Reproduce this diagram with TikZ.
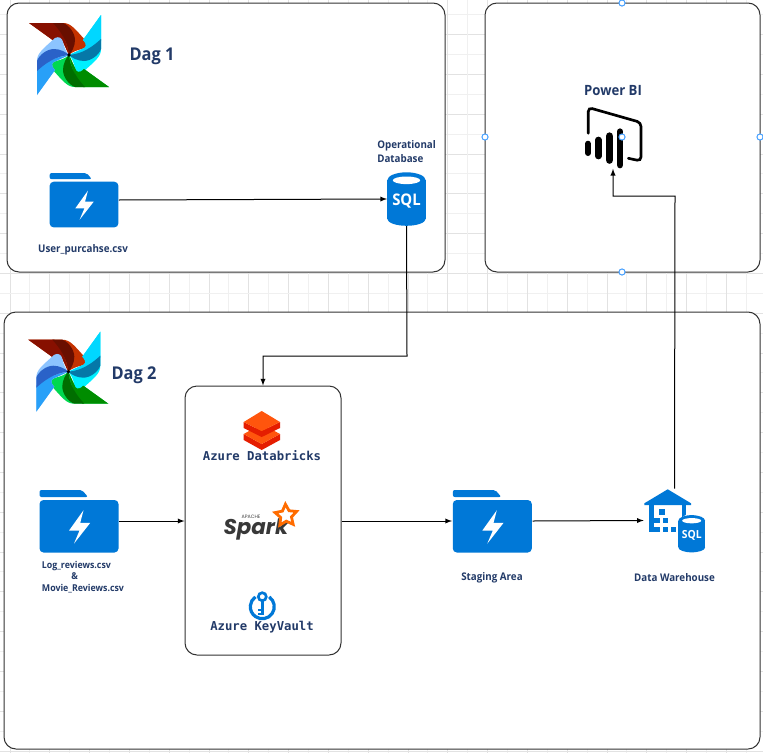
\documentclass[tikz,border=0pt]{standalone}
\usepackage{fontspec}
\setmainfont{Open Sans}[FakeStretch=0.93]
\newfontfamily\monofont{DejaVu Sans Mono}
\newfontfamily\sparkfont{Poppins}
\usetikzlibrary{shapes.geometric}
\definecolor{labelblue}{RGB}{34,58,104}
\definecolor{azureblue}{RGB}{0,120,215}
\definecolor{handleblue}{RGB}{70,160,255}
\definecolor{borderdark}{RGB}{50,50,50}
\definecolor{gridmajor}{RGB}{226,226,226}
\definecolor{gridminor}{RGB}{240,240,240}
\definecolor{redtip}{RGB}{135,16,0}
\definecolor{redmain}{RGB}{196,50,0}
\definecolor{reddark}{RGB}{105,15,0}
\definecolor{cyantip}{RGB}{0,215,255}
\definecolor{cyanmain}{RGB}{0,240,255}
\definecolor{cyandark}{RGB}{5,120,168}
\definecolor{greentip}{RGB}{0,140,0}
\definecolor{greenmain}{RGB}{0,216,80}
\definecolor{greendark}{RGB}{0,110,0}
\definecolor{bluetip}{RGB}{40,160,248}
\definecolor{bluemain}{RGB}{140,196,255}
\definecolor{bluedark}{RGB}{42,98,200}
\tikzset{
    panel/.style={draw=borderdark, fill=white, line width=0.75pt, rounded corners=9pt},
    caption/.style={font=\bfseries\fontsize{7.9pt}{8pt}\selectfont, text=labelblue, inner sep=0pt},
    dagtitle/.style={font=\bfseries\fontsize{13.2pt}{14pt}\selectfont, text=labelblue, inner sep=0pt},
    toolname/.style={font=\monofont\bfseries\fontsize{9.2pt}{10pt}\selectfont, text=labelblue, inner sep=0pt},
    iconbox/.style 2 args={inner sep=0pt, minimum width=#1*0.75pt, minimum height=#2*0.75pt},
    link/.style={draw=black, line width=0.75pt, -latex},
    handle/.style={circle, draw=handleblue, fill=white, line width=0.75pt, inner sep=0pt, minimum size=4.6pt},
    pics/pinwheel/.style={code={
        \foreach \ang/\tipc/\mainc/\darkc in {0/redtip/redmain/reddark,-90/cyantip/cyanmain/cyandark,180/greentip/greenmain/greendark,90/bluetip/bluemain/bluedark}{
            \begin{scope}[rotate=\ang]
                \fill[\mainc] (-40,-32) -- (-6,-32) .. controls (2,-32) and (6,-26) .. (17,-14)
                    .. controls (19,-10) and (17,-7) .. (13,-6) .. controls (8,-5) and (3,-3) .. (0,0)
                    -- (-6,-13) .. controls (-7,-17) and (-10,-19) .. (-15,-14) -- cycle;
                \fill[\tipc] (-40,-32) -- (-14,-32) .. controls (-8,-24) and (-3,-16) .. (-1,-4)
                    -- (0,0) -- (-6,-13) .. controls (-7,-17) and (-10,-19) .. (-15,-14) -- cycle;
                \fill[\darkc] (-16,-32) -- (-6,-32) .. controls (0,-30) and (6,-22) .. (6,-15)
                    .. controls (6,-9) and (3,-3) .. (0,0) .. controls (-1,-8) and (-3,-18) .. (-16,-32) -- cycle;
            \end{scope}
        }
        \fill[black] (0,0) circle (1.8);
    }},
    pics/folder/.style={code={
        \fill[azureblue, rounded corners=1.5pt] (-39.5,-24) -- (-39.5,-31) -- (3,-31) -- (9,-24) -- cycle;
        \fill[azureblue, rounded corners=3pt] (-39.5,-21) rectangle (39.5,31.5);
        \fill[white] (4.5,-10.7) -- (-10,9.6) -- (0.5,9.6) -- (-5,22.6) -- (11.2,1.9) -- (1.2,1.9) -- cycle;
    }},
    pics/sqlcan/.style={code={
        \fill[azureblue] (-19.2,-18.7) rectangle (19.2,19.8);
        \fill[azureblue] (0,-18.7) ellipse [x radius=19.2, y radius=8];
        \fill[azureblue] (0,19.8) ellipse [x radius=19.2, y radius=7];
        \fill[white] (0,-18.7) ellipse [x radius=13.7, y radius=3.8];
        \node[transform shape, text=white, inner sep=0pt, font=\bfseries\fontsize{12pt}{12pt}\selectfont] (sqlword) at (0,2) {SQL};
    }},
    pics/warehouse/.style={code={
        \fill[azureblue] (-6.8,-31.2) -- (16.5,-17.2) -- (16.5,-15.5) -- (-30.2,-15.5) -- (-30.2,-17.2) -- cycle;
        \fill[azureblue] (-25.2,-16) rectangle (-20.7,11.8);
        \fill[azureblue] (7,-16) rectangle (11.5,-3);
        \foreach \boxx/\boxy in {-15.2/-11.2,-20.2/-2.8,-11.8/-2.8,-20.2/6.2,-11.8/6.2,-3.8/6.2}{
            \fill[azureblue] (\boxx,\boxy) rectangle ++(5.6,5.6);
        }
        \fill[white] (17.2,13.2) ellipse [x radius=15, y radius=20.5];
        \pic[scale=0.695] at (17.2,13.2) {sqlcan};
    }},
    pics/powerbi/.style={code={
        \draw[black, line width=2pt, rounded corners=3pt, line cap=round] (-24.7,-4.7) -- (-24.7,-30.5) -- (28,-15.5) -- (28,23) -- (15.3,20.3);
        \foreach \barx/\bartop/\barbot/\barw in {-25/5.7/15/6,-14.7/2/18/6.7,-3.5/-1.8/22/7.7,7/-6.3/27/6.7}{
            \draw[black, line cap=round, line width=\barw*0.75pt] (\barx,\bartop) -- (\barx,\barbot);
        }
    }},
    pics/databricks/.style={code={
        \fill[red!75!orange!90!black] (-18,4) -- (0,14) -- (18.3,4) -- (18.3,10) -- (0,20) -- (-18,10) -- cycle;
        \fill[orange!60!red!95!white] (0,-6) -- (18.3,4) -- (0,14) -- (-18,4) -- cycle;
        \fill[red!75!orange!90!black] (-18,-8) -- (0,1) -- (18.3,-8) -- (18.3,-2) -- (0,7) -- (-18,-2) -- cycle;
        \fill[orange!60!red!95!white] (0,-19) -- (18.3,-8) -- (0,1) -- (-18,-8) -- cycle;
    }},
    pics/keyvault/.style={code={
        \draw[azureblue, line width=2.4pt] (-55:12) arc[start angle=-55, end angle=235, radius=12];
        \draw[azureblue, line width=2pt] (0,-10) circle (4);
        \fill[azureblue] (-1.8,-6) rectangle (1.8,8.5);
        \fill[azureblue] (-4.5,2.5) rectangle (-1.5,4.5);
        \fill[azureblue] (-4.5,6.5) rectangle (-1.5,8.5);
    }},
}

\begin{document}
\begin{tikzpicture}[x=0.75pt, y=-0.75pt]
    \useasboundingbox (0,0) rectangle (763,753);
    % Canvas grid behind the panels.
    \foreach \k in {0,...,18}{
        \draw[gridminor, line width=0.7pt] ({29.9+39.8*\k},0) -- ++(0,753);
        \draw[gridmajor, line width=0.7pt] ({10+39.8*\k},0) -- ++(0,753);
        \draw[gridminor, line width=0.7pt] (0,{14.7+39.8*\k}) -- ++(763,0);
        \draw[gridmajor, line width=0.7pt] (0,{34.6+39.8*\k}) -- ++(763,0);
    }

    % Panels.
    \draw[panel] (7,3) rectangle (445,272);
    \draw[panel] (485,3) rectangle (760,272);
    \draw[panel] (4,312) rectangle (760,749);

    % Dag 1.
    \pic at (69,55) {pinwheel};
    \node[dagtitle] (dagone) at (152,56) {Dag 1};
    \node[iconbox={69}{55}] (userfile) at (84,200) {};
    \pic[scale=0.87] at (userfile) {folder};
    \node[caption] (userlabel) at (83,250) {User\_purcahse.csv};
    \node[iconbox={38.4}{53.7}] (opdb) at (406.5,199) {};
    \pic at (opdb) {sqlcan};
    \node[caption, align=left, anchor=west] (opdblabel) at (377,151.5) {Operational\\[3pt]Database};

    % Power BI.
    \node[dagtitle, font=\bfseries\fontsize{10.6pt}{12pt}\selectfont] (pbilabel) at (613,91) {Power BI};
    \node[iconbox={57.4}{61}] (powerbi) at (613,138) {};
    \pic at (powerbi) {powerbi};

    % Dag 2.
    \pic at (68.3,371.7) {pinwheel};
    \node[dagtitle] (dagtwo) at (134,375) {Dag 2};
    \node[iconbox={79}{62}] (logfile) at (79,521) {};
    \pic at (logfile) {folder};
    \node[caption, align=left, anchor=west, font=\bfseries\fontsize{7.1pt}{8.4pt}\selectfont] (loglabel) at (41.7,577) {Log\_reviews.csv\\\hspace*{22pt}\&\\Movie\_Reviews.csv};

    % Processing box.
    \node[panel, minimum width=156*0.75pt, minimum height=269*0.75pt, inner sep=0pt] (procbox) at (263,520.5) {};
    \node[iconbox={36.3}{39}] (dbricks) at (261.7,430) {};
    \pic at (dbricks) {databricks};
    \node[toolname] (dbrickslabel) at (262,455.5) {Azure Databricks};
    \node[inner sep=0pt, text=black!78, font=\sparkfont\bfseries\itshape\fontsize{16pt}{16pt}\selectfont] (sparkword) at (256,529) {Spark};
    \node[inner sep=0pt, text=black!75, font=\sparkfont\fontsize{3.6pt}{4pt}\selectfont] (apacheword) at (251,516.5) {APACHE};
    \node[star, star points=5, star point ratio=2, draw=orange!85!red, line width=2.1pt, inner sep=0pt, minimum size=17pt, shape border rotate=3] (sparkstar) at (286,515.5) {};
    \node[iconbox={24}{30}] (keyvault) at (262.3,606.7) {};
    \pic at (keyvault) {keyvault};
    \node[toolname] (keyvaultlabel) at (262,627.5) {Azure KeyVault};

    \node[iconbox={80}{62}] (staging) at (492.3,521) {};
    \pic at (staging) {folder};
    \node[caption] (staginglabel) at (492,578) {Staging Area};
    \node[iconbox={61}{63}] (warehouse) at (674.5,520.5) {};
    \pic at (warehouse) {warehouse};
    \node[caption] (warehouselabel) at (674.5,577.5) {Data Warehouse};

    % Connectors.
    \coordinate (dbturn) at (407,356);
    \coordinate (pbiturn) at (675,196);
    \draw[link] (userfile.east) -- (opdb.west);
    \draw[link] (opdb.south) -- (dbturn) -| (procbox.north);
    \draw[link] (logfile.east) -- (procbox.west |- logfile.east);
    \draw[link] (procbox.east |- staging.west) -- (staging.west);
    \draw[link] (staging.east) -- (warehouse.west);
    \draw[link] (warehouse.north) -- (pbiturn) -| (powerbi.south);

    % Selection handles.
    \node[handle] (handletop) at (622,3) {};
    \node[handle] (handleleft) at (485,137) {};
    \node[handle] (handleright) at (760,137) {};
    \node[handle] (handlebottom) at (622,272) {};
    \node[handle] (handlecentre) at (622,137) {};
\end{tikzpicture}
\end{document}
